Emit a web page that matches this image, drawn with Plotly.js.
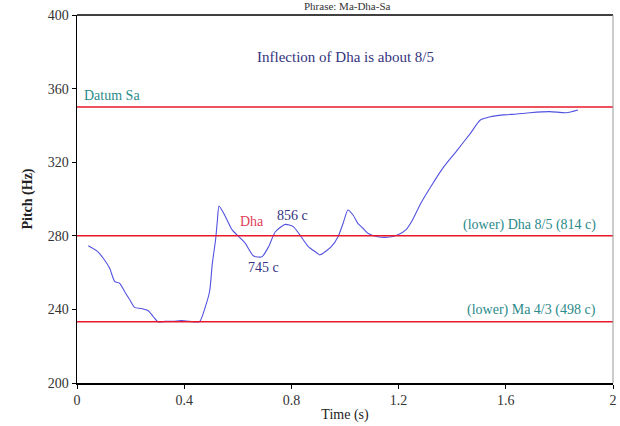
<!DOCTYPE html>
<html><head><meta charset="utf-8">
<script src="https://cdn.plot.ly/plotly-3.0.1.min.js"></script>
<style>html,body{margin:0;padding:0;background:#fff}#chart{width:620px;height:426px}</style>
</head><body><div id="chart"></div>
<script>
const timeS = [0.042,0.073,0.098,0.122,0.141,0.159,0.178,0.196,0.215,0.240,0.266,0.285,0.303,0.33,0.36,0.39,0.42,0.457,0.479,0.495,0.505,0.517,0.524,0.53,0.554,0.579,0.604,0.628,0.659,0.69,0.715,0.74,0.777,0.807,0.832,0.863,0.894,0.906,0.949,0.974,0.993,1.011,1.03,1.048,1.067,1.085,1.122,1.159,1.196,1.227,1.252,1.283,1.32,1.369,1.419,1.468,1.505,1.542,1.591,1.641,1.69,1.764,1.826,1.869];
const pitchHz = [274.6,271.9,267.8,262.3,255.1,254.2,249.6,245.5,241.1,240.5,239.3,236,233.2,233.5,233.6,233.9,233.5,233.3,241.5,250,265,277.7,288.6,296.2,290.4,283.2,279.5,275.9,269,268.6,274.1,282.2,286.2,285,280.4,274.1,270.8,269.6,274.1,279.5,286.8,294,291.3,286.8,284.1,281.4,279.5,279.2,280.4,283.2,288.6,297.7,306.7,317.6,326.6,335.7,342.9,344.7,345.7,346.2,346.9,347.5,346.9,348.4];
const refPitch = [350, 280, 233.33];
const xTicks = [0, 0.4, 0.8, 1.2, 1.6, 2];
const xTickText = ["0", "0.4", "0.8", "1.2", "1.6", "2"];
const yTicks = [200, 240, 280, 320, 360, 400];

const serif = "Liberation Serif, Times New Roman, serif";
const teal = "#2b8a8a", navy = "#34347e", red = "#e8182a";

const shapes = refPitch.map(v => ({type:"line", xref:"paper", x0:0, x1:1, yref:"y", y0:v, y1:v, line:{color:red, width:1.5}}));
shapes.push({type:"line", xref:"paper", yref:"paper", x0:0, x1:1, y0:1, y1:1, line:{color:"#000", width:1.5}});
shapes.push({type:"line", xref:"paper", yref:"paper", x0:1, x1:1, y0:0, y1:1, line:{color:"#999", width:1}});

const ann = (x, y, text, color, opts={}) => Object.assign({x, y, xref:"x", yref:"y", text, showarrow:false, font:{family:serif, size:14, color}}, opts);

Plotly.newPlot("chart", [{
  x: timeS, y: pitchHz, type:"scatter", mode:"lines",
  line:{color:"#5252e0", width:1.1, shape:"spline", smoothing:0.6}, hoverinfo:"skip"
}], {
  width:620, height:426,
  margin:{l:77, r:7, t:15, b:43},
  paper_bgcolor:"#fff", plot_bgcolor:"#fff",
  showlegend:false,
  title:{text:"Phrase: Ma-Dha-Sa", x:0.56, xanchor:"center", y:0.994, yref:"container", yanchor:"top", font:{family:serif, size:11, color:"#333"}},
  xaxis:{range:[0,2], tickvals:xTicks, ticktext:xTickText, showgrid:false, zeroline:false,
    showline:true, linecolor:"#000", linewidth:1.5, ticks:"outside", ticklen:4, tickcolor:"#000",
    tickfont:{family:serif, size:14, color:"#333"},
    title:{text:"Time (s)", font:{family:serif, size:14, color:"#222"}, standoff:2}},
  yaxis:{range:[200,400], tickvals:yTicks, showgrid:false, zeroline:false,
    showline:true, linecolor:"#000", linewidth:1.5, ticks:"outside", ticklen:4, tickcolor:"#000",
    tickfont:{family:serif, size:14, color:"#333"},
    title:{text:"<b>Pitch (Hz)</b>", font:{family:serif, size:14, color:"#222"}, standoff:12}},
  shapes: shapes,
  annotations:[
    ann(1.0, 377, "Inflection of Dha is about 8/5", navy, {font:{family:serif, size:15, color:navy}}),
    ann(0.02, 356, "Datum Sa", teal, {xanchor:"left"}),
    ann(0.6, 288, "Dha", "#e0405a", {xanchor:"left"}),
    ann(0.74, 291, "856 c", navy, {xanchor:"left"}),
    ann(0.63, 263, "745 c", navy, {xanchor:"left"}),
    ann(1.945, 286, "(lower) Dha 8/5 (814 c)", teal, {xanchor:"right"}),
    ann(1.945, 239.5, "(lower) Ma 4/3 (498 c)", teal, {xanchor:"right"})
  ]
}, {staticPlot:true, displayModeBar:false});
</script></body></html>
